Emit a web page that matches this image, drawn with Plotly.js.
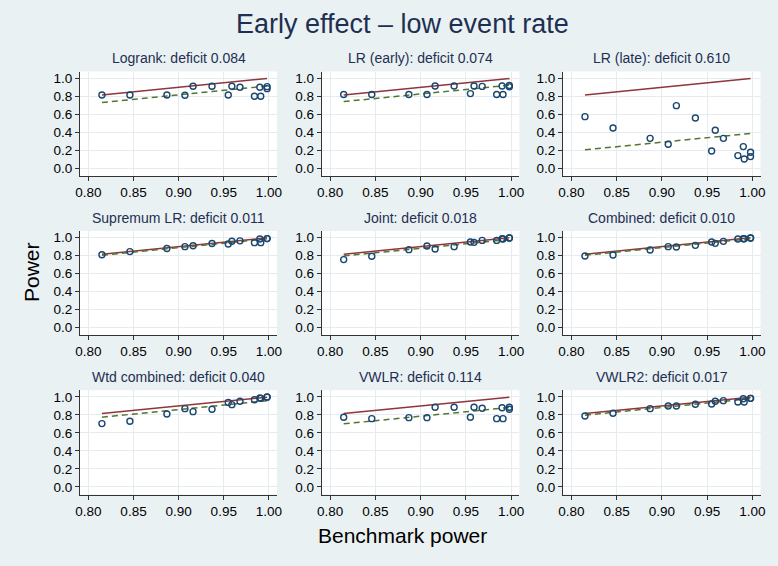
<!DOCTYPE html>
<html>
<head>
<meta charset="utf-8">
<script src="https://cdn.plot.ly/plotly-3.0.1.min.js"></script>
<style>html,body{margin:0;padding:0;background:#eaf1f3;}#chart{width:778px;height:566px;}</style>
</head>
<body>
<div id="chart"></div>
<script>
// Benchmark power (x) shared by all panels
const benchmark = [0.815, 0.846, 0.887, 0.907, 0.916, 0.937, 0.955, 0.959, 0.968, 0.984, 0.990, 0.991, 0.998, 0.998];

const panelNames = ["Logrank", "LR (early)", "LR (late)", "Supremum LR", "Joint", "Combined", "Wtd combined", "VWLR", "VWLR2"];
const deficits = [0.084, 0.074, 0.610, 0.011, 0.018, 0.010, 0.040, 0.114, 0.017];

const powerLogrank   = [0.815, 0.815, 0.815, 0.812, 0.911, 0.911, 0.815, 0.911, 0.900, 0.800, 0.900, 0.800, 0.907, 0.885];
const powerLREarly   = [0.820, 0.820, 0.820, 0.820, 0.915, 0.915, 0.830, 0.915, 0.910, 0.820, 0.915, 0.820, 0.920, 0.905];
const powerLRLate    = [0.574, 0.448, 0.333, 0.267, 0.696, 0.559, 0.193, 0.422, 0.333, 0.141, 0.241, 0.104, 0.178, 0.130];
const powerSupLR     = [0.810, 0.845, 0.880, 0.900, 0.910, 0.935, 0.930, 0.960, 0.965, 0.945, 0.985, 0.945, 0.990, 0.990];
const powerJoint     = [0.756, 0.793, 0.867, 0.907, 0.874, 0.900, 0.952, 0.948, 0.970, 0.970, 0.989, 0.985, 0.996, 0.996];
const powerCombined  = [0.796, 0.807, 0.863, 0.900, 0.896, 0.915, 0.952, 0.937, 0.959, 0.985, 0.989, 0.989, 0.996, 0.996];
const powerWtdComb   = [0.704, 0.730, 0.811, 0.870, 0.837, 0.863, 0.940, 0.915, 0.952, 0.970, 0.989, 0.985, 1.000, 0.998];
const powerVWLR      = [0.774, 0.759, 0.770, 0.770, 0.885, 0.885, 0.774, 0.885, 0.874, 0.759, 0.881, 0.759, 0.885, 0.863];
const powerVWLR2     = [0.789, 0.819, 0.870, 0.900, 0.900, 0.919, 0.922, 0.952, 0.959, 0.944, 0.981, 0.944, 0.985, 0.985];

const powers = [powerLogrank, powerLREarly, powerLRLate, powerSupLR, powerJoint, powerCombined, powerWtdComb, powerVWLR, powerVWLR2];

const xTicks = [0.80, 0.85, 0.90, 0.95, 1.00];
const yTicks = [0.0, 0.2, 0.4, 0.6, 0.8, 1.0];

const W = 778, H = 566;
const FONT = "Liberation Sans, Arial, Helvetica, sans-serif";
const NAVY = "#1a476f";
const TITLE_C = "#1f2f52";
const MAROON = "#90353b";
const GREEN = "#55752f";

// panel pixel boxes
const colX = [[80, 277], [321.7, 519.3], [563, 760.5]];
const rowY = [[71.5, 176], [230.9, 335.2], [390.2, 494.5]];

const xmin = Math.min(...benchmark), xmax = Math.max(...benchmark);

const data = [];
const layout = {
  width: W, height: H,
  margin: {l: 0, r: 0, t: 0, b: 0},
  paper_bgcolor: "#eaf1f3",
  plot_bgcolor: "#ffffff",
  showlegend: false,
  font: {family: FONT, size: 13, color: "#000"},
  annotations: []
};

for (let i = 0; i < 9; i++) {
  const r = Math.floor(i / 3), c = i % 3;
  const s = i === 0 ? "" : String(i + 1);
  const xa = "x" + s, ya = "y" + s;
  const lineX = [xmin, xmax];
  // reference line y = x
  data.push({x: lineX, y: lineX, xaxis: xa, yaxis: ya, type: "scatter", mode: "lines",
    line: {color: MAROON, width: 1.5}, hoverinfo: "skip"});
  // fitted line y = x - deficit
  data.push({x: lineX, y: lineX.map(v => v - deficits[i]), xaxis: xa, yaxis: ya, type: "scatter", mode: "lines",
    line: {color: GREEN, width: 1.5, dash: "6px,4px"}, hoverinfo: "skip"});
  // points
  data.push({x: benchmark, y: powers[i], xaxis: xa, yaxis: ya, type: "scatter", mode: "markers",
    marker: {symbol: "circle-open", size: 6, color: NAVY, line: {width: 1.4, color: NAVY}}});

  const common = {
    showgrid: true, gridcolor: "#e4ecef", gridwidth: 1,
    zeroline: false, showline: true, linecolor: "#333", linewidth: 1,
    ticks: "outside", ticklen: 4, tickcolor: "#333", tickwidth: 1,
    tickfont: {family: FONT, size: 13.5, color: "#000"}, fixedrange: true
  };
  layout["xaxis" + s] = Object.assign({}, common, {
    domain: [colX[c][0] / W, colX[c][1] / W],
    range: [0.7907, 1.0090],
    tickvals: xTicks, tickformat: ".2f",
    anchor: ya
  });
  layout["yaxis" + s] = Object.assign({}, common, {
    domain: [1 - rowY[r][1] / H, 1 - rowY[r][0] / H],
    range: [-0.0856, 1.0756],
    tickvals: yTicks, tickformat: ".1f",
    anchor: xa
  });
  layout.annotations.push({
    text: panelNames[i] + ": deficit " + deficits[i].toFixed(3),
    xref: "paper", yref: "paper",
    x: (colX[c][0] + colX[c][1]) / 2 / W,
    y: 1 - (rowY[r][0] - 13) / H,
    xanchor: "center", yanchor: "middle", showarrow: false,
    font: {family: FONT, size: 14, color: TITLE_C}
  });
}

layout.annotations.push({
  text: "Early effect – low event rate", xref: "paper", yref: "paper",
  x: 402 / W, y: 1 - 24 / H, xanchor: "center", yanchor: "middle", showarrow: false,
  font: {family: FONT, size: 27, color: TITLE_C}
});
layout.annotations.push({
  text: "Benchmark power", xref: "paper", yref: "paper",
  x: 403 / W, y: 1 - 535 / H, xanchor: "center", yanchor: "middle", showarrow: false,
  font: {family: FONT, size: 21, color: "#000"}
});
layout.annotations.push({
  text: "Power", xref: "paper", yref: "paper", textangle: -90,
  x: 31 / W, y: 1 - 272 / H, xanchor: "center", yanchor: "middle", showarrow: false,
  font: {family: FONT, size: 21, color: "#000"}
});

Plotly.newPlot("chart", data, layout, {displayModeBar: false, staticPlot: true});
</script>
</body>
</html>
